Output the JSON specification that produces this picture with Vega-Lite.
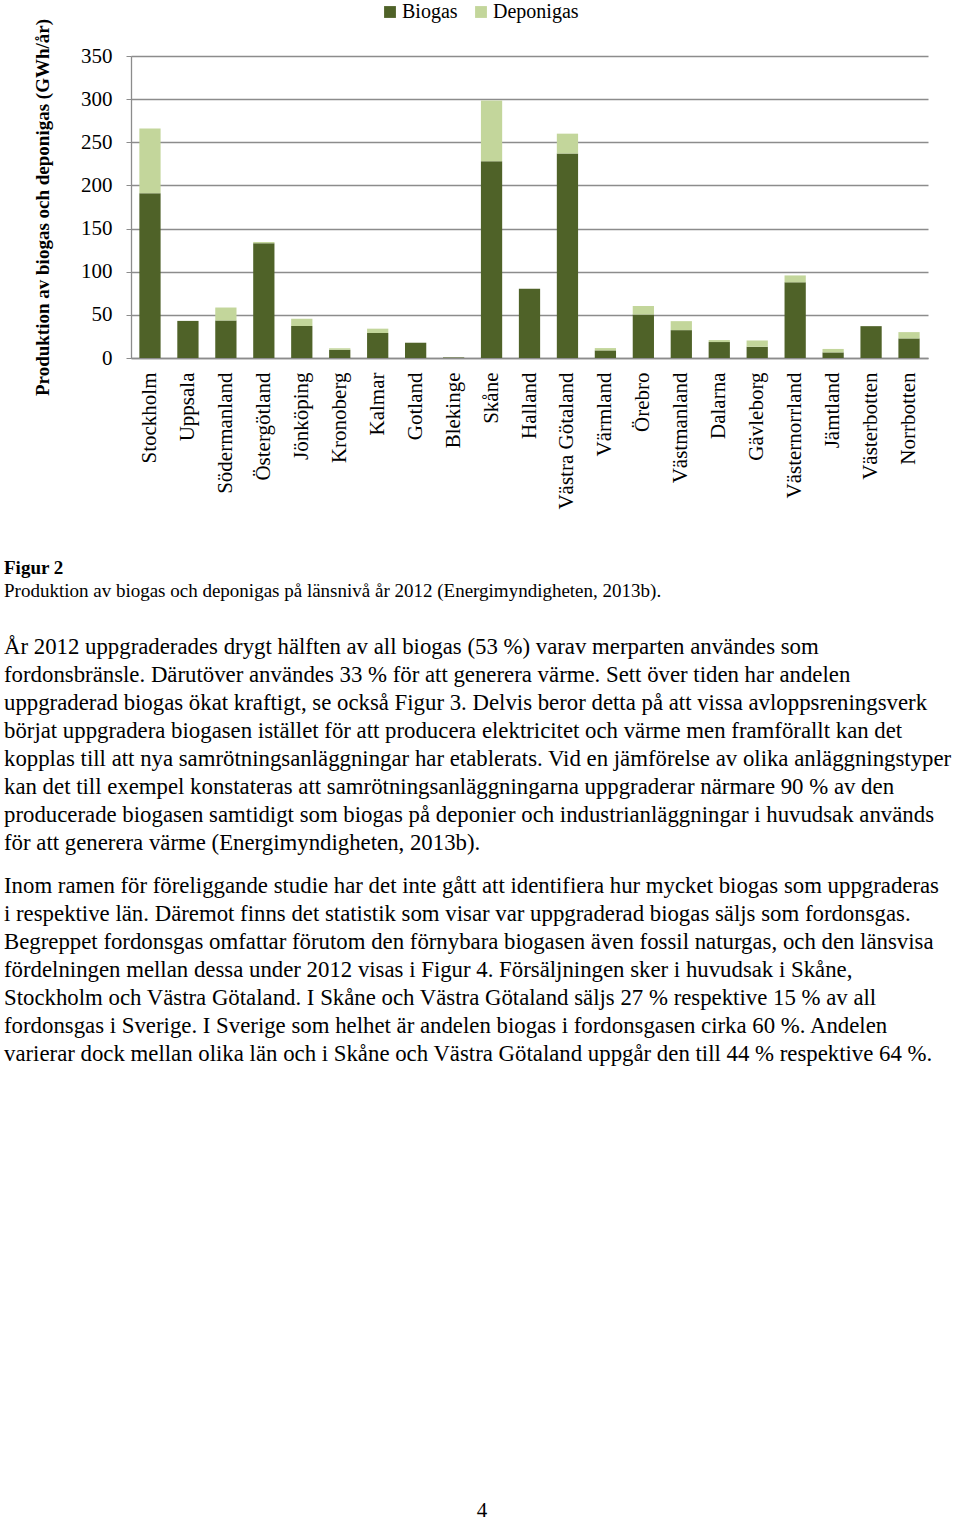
{
  "$schema": "https://vega.github.io/schema/vega-lite/v6.json",
  "padding": {"left": 4, "top": 2, "right": 0, "bottom": 0},
  "config": {"font": "Liberation Serif", "view": {"stroke": null}},
  "datasets": {
    "bars": [
      {"lan": "Stockholm", "typ": "Biogas", "gwh": 191},
      {"lan": "Stockholm", "typ": "Deponigas", "gwh": 75},
      {"lan": "Uppsala", "typ": "Biogas", "gwh": 43},
      {"lan": "Uppsala", "typ": "Deponigas", "gwh": 0},
      {"lan": "Södermanland", "typ": "Biogas", "gwh": 43.5},
      {"lan": "Södermanland", "typ": "Deponigas", "gwh": 15},
      {"lan": "Östergötland", "typ": "Biogas", "gwh": 133},
      {"lan": "Östergötland", "typ": "Deponigas", "gwh": 1.5},
      {"lan": "Jönköping", "typ": "Biogas", "gwh": 37},
      {"lan": "Jönköping", "typ": "Deponigas", "gwh": 8.5},
      {"lan": "Kronoberg", "typ": "Biogas", "gwh": 9.6},
      {"lan": "Kronoberg", "typ": "Deponigas", "gwh": 1.6},
      {"lan": "Kalmar", "typ": "Biogas", "gwh": 29},
      {"lan": "Kalmar", "typ": "Deponigas", "gwh": 5},
      {"lan": "Gotland", "typ": "Biogas", "gwh": 17.7},
      {"lan": "Gotland", "typ": "Deponigas", "gwh": 0},
      {"lan": "Blekinge", "typ": "Biogas", "gwh": 0.6},
      {"lan": "Blekinge", "typ": "Deponigas", "gwh": 0},
      {"lan": "Skåne", "typ": "Biogas", "gwh": 228},
      {"lan": "Skåne", "typ": "Deponigas", "gwh": 70.5},
      {"lan": "Halland", "typ": "Biogas", "gwh": 80.4},
      {"lan": "Halland", "typ": "Deponigas", "gwh": 0},
      {"lan": "Västra Götaland", "typ": "Biogas", "gwh": 237},
      {"lan": "Västra Götaland", "typ": "Deponigas", "gwh": 23},
      {"lan": "Värmland", "typ": "Biogas", "gwh": 8.8},
      {"lan": "Värmland", "typ": "Deponigas", "gwh": 2.7},
      {"lan": "Örebro", "typ": "Biogas", "gwh": 50.4},
      {"lan": "Örebro", "typ": "Deponigas", "gwh": 10},
      {"lan": "Västmanland", "typ": "Biogas", "gwh": 32.3},
      {"lan": "Västmanland", "typ": "Deponigas", "gwh": 10.4},
      {"lan": "Dalarna", "typ": "Biogas", "gwh": 18.5},
      {"lan": "Dalarna", "typ": "Deponigas", "gwh": 2.3},
      {"lan": "Gävleborg", "typ": "Biogas", "gwh": 13},
      {"lan": "Gävleborg", "typ": "Deponigas", "gwh": 7.3},
      {"lan": "Västernorrland", "typ": "Biogas", "gwh": 87.7},
      {"lan": "Västernorrland", "typ": "Deponigas", "gwh": 8},
      {"lan": "Jämtland", "typ": "Biogas", "gwh": 6.5},
      {"lan": "Jämtland", "typ": "Deponigas", "gwh": 4},
      {"lan": "Västerbotten", "typ": "Biogas", "gwh": 36.9},
      {"lan": "Västerbotten", "typ": "Deponigas", "gwh": 0},
      {"lan": "Norrbotten", "typ": "Biogas", "gwh": 22.7},
      {"lan": "Norrbotten", "typ": "Deponigas", "gwh": 7.3}
    ],
    "tekst": [
      {"block": "fig", "line": 1, "text": "Figur 2"},
      {"block": "fig", "line": 2, "text": "Produktion av biogas och deponigas på länsnivå år 2012 (Energimyndigheten, 2013b)."},
      {"block": "p1", "line": 1, "text": "År 2012 uppgraderades drygt hälften av all biogas (53 %) varav merparten användes som"},
      {"block": "p1", "line": 2, "text": "fordonsbränsle. Därutöver användes 33 % för att generera värme. Sett över tiden har andelen"},
      {"block": "p1", "line": 3, "text": "uppgraderad biogas ökat kraftigt, se också Figur 3. Delvis beror detta på att vissa avloppsreningsverk"},
      {"block": "p1", "line": 4, "text": "börjat uppgradera biogasen istället för att producera elektricitet och värme men framförallt kan det"},
      {"block": "p1", "line": 5, "text": "kopplas till att nya samrötningsanläggningar har etablerats. Vid en jämförelse av olika anläggningstyper"},
      {"block": "p1", "line": 6, "text": "kan det till exempel konstateras att samrötningsanläggningarna uppgraderar närmare 90 % av den"},
      {"block": "p1", "line": 7, "text": "producerade biogasen samtidigt som biogas på deponier och industrianläggningar i huvudsak används"},
      {"block": "p1", "line": 8, "text": "för att generera värme (Energimyndigheten, 2013b)."},
      {"block": "p2", "line": 1, "text": "Inom ramen för föreliggande studie har det inte gått att identifiera hur mycket biogas som uppgraderas"},
      {"block": "p2", "line": 2, "text": "i respektive län. Däremot finns det statistik som visar var uppgraderad biogas säljs som fordonsgas."},
      {"block": "p2", "line": 3, "text": "Begreppet fordonsgas omfattar förutom den förnybara biogasen även fossil naturgas, och den länsvisa"},
      {"block": "p2", "line": 4, "text": "fördelningen mellan dessa under 2012 visas i Figur 4. Försäljningen sker i huvudsak i Skåne,"},
      {"block": "p2", "line": 5, "text": "Stockholm och Västra Götaland. I Skåne och Västra Götaland säljs 27 % respektive 15 % av all"},
      {"block": "p2", "line": 6, "text": "fordonsgas i Sverige. I Sverige som helhet är andelen biogas i fordonsgasen cirka 60 %. Andelen"},
      {"block": "p2", "line": 7, "text": "varierar dock mellan olika län och i Skåne och Västra Götaland uppgår den till 44 % respektive 64 %."},
      {"block": "sida", "line": 1, "text": "4"}
    ]
  },
  "center": true,
  "spacing": 429,
  "vconcat": [
    {
      "spacing": 15,
      "vconcat": [
        {
          "spacing": 29.5,
          "vconcat": [
            {
              "spacing": 46.5,
              "vconcat": [
                {
                  "spacing": 0,
                  "hconcat": [
                    {
                      "width": 29,
                      "height": 1,
                      "data": {"values": [{"t": ""}]},
                      "mark": {"type": "text"},
                      "encoding": {"text": {"field": "t"}}
                    },
                    {
                      "width": 797,
                      "height": 302,
                      "data": {"name": "bars"},
                      "mark": {"type": "bar"},
                      "encoding": {
                        "x": {
                          "field": "lan", "type": "nominal", "sort": null,
                          "scale": {"paddingInner": 0.44, "paddingOuter": 0.22},
                          "axis": {"title": null, "labelAngle": -90, "labelFontSize": 21, "labelColor": "#000000", "labelPadding": 14, "ticks": false, "domainColor": "#8c8c8c", "domainWidth": 1.5, "labelLimit": 300}
                        },
                        "y": {
                          "field": "gwh", "type": "quantitative", "stack": "zero",
                          "scale": {"domain": [0, 350], "nice": false},
                          "axis": {
                            "values": [0, 50, 100, 150, 200, 250, 300, 350],
                            "title": "Produktion av biogas och deponigas (GWh/år)",
                            "titleFontSize": 19, "titleFontWeight": "bold", "titleColor": "#000000", "titlePadding": 28,
                            "labelFontSize": 21, "labelColor": "#000000", "labelPadding": 14,
                            "tickSize": 5, "tickColor": "#8c8c8c", "domainColor": "#8c8c8c", "domainWidth": 1.3,
                            "gridColor": "#8c8c8c", "gridWidth": 1.3
                          }
                        },
                        "color": {
                          "field": "typ", "type": "nominal",
                          "scale": {"domain": ["Biogas", "Deponigas"], "range": ["#4f6228", "#c3d69b"]},
                          "legend": {
                            "orient": "none", "legendX": 376, "legendY": -54, "direction": "horizontal", "title": null,
                            "symbolType": "square", "symbolSize": 140, "symbolStrokeWidth": 0,
                            "labelFontSize": 20, "labelColor": "#000000", "labelOffset": 2, "columnPadding": 13
                          }
                        },
                        "order": {"field": "typ", "sort": "ascending"}
                      }
                    }
                  ]
                },
                {
                  "width": 956,
                  "height": 46,
                  "data": {"name": "tekst"},
                  "transform": [{"filter": "datum.block === 'fig'"}],
                  "encoding": {
                    "x": {"value": 0},
                    "y": {"field": "line", "type": "ordinal", "axis": null, "scale": {"padding": 0.5}},
                    "text": {"field": "text"}
                  },
                  "layer": [
                    {
                      "transform": [{"filter": "datum.line === 1"}],
                      "mark": {"type": "text", "align": "left", "baseline": "middle", "fontSize": 19, "fontWeight": "bold", "color": "#000000"}
                    },
                    {
                      "transform": [{"filter": "datum.line === 2"}],
                      "mark": {"type": "text", "align": "left", "baseline": "middle", "fontSize": 19, "color": "#000000"}
                    }
                  ]
                }
              ]
            },
            {
              "width": 956,
              "height": 224,
              "data": {"name": "tekst"},
              "transform": [{"filter": "datum.block === 'p1'"}],
              "mark": {"type": "text", "align": "left", "baseline": "middle", "fontSize": 22.8, "color": "#000000"},
              "encoding": {
                "x": {"value": 0},
                "y": {"field": "line", "type": "ordinal", "axis": null, "scale": {"padding": 0.5}},
                "text": {"field": "text"}
              }
            }
          ]
        },
        {
          "width": 956,
          "height": 196,
          "data": {"name": "tekst"},
          "transform": [{"filter": "datum.block === 'p2'"}],
          "mark": {"type": "text", "align": "left", "baseline": "middle", "fontSize": 22.8, "color": "#000000"},
          "encoding": {
            "x": {"value": 0},
            "y": {"field": "line", "type": "ordinal", "axis": null, "scale": {"padding": 0.5}},
            "text": {"field": "text"}
          }
        }
      ]
    },
    {
      "height": 28,
      "data": {"name": "tekst"},
      "transform": [{"filter": "datum.block === 'sida'"}],
      "mark": {"type": "text", "align": "center", "baseline": "middle", "fontSize": 21, "color": "#000000"},
      "encoding": {
        "y": {"field": "line", "type": "ordinal", "axis": null, "scale": {"padding": 0.5}},
        "text": {"field": "text"}
      }
    }
  ]
}
